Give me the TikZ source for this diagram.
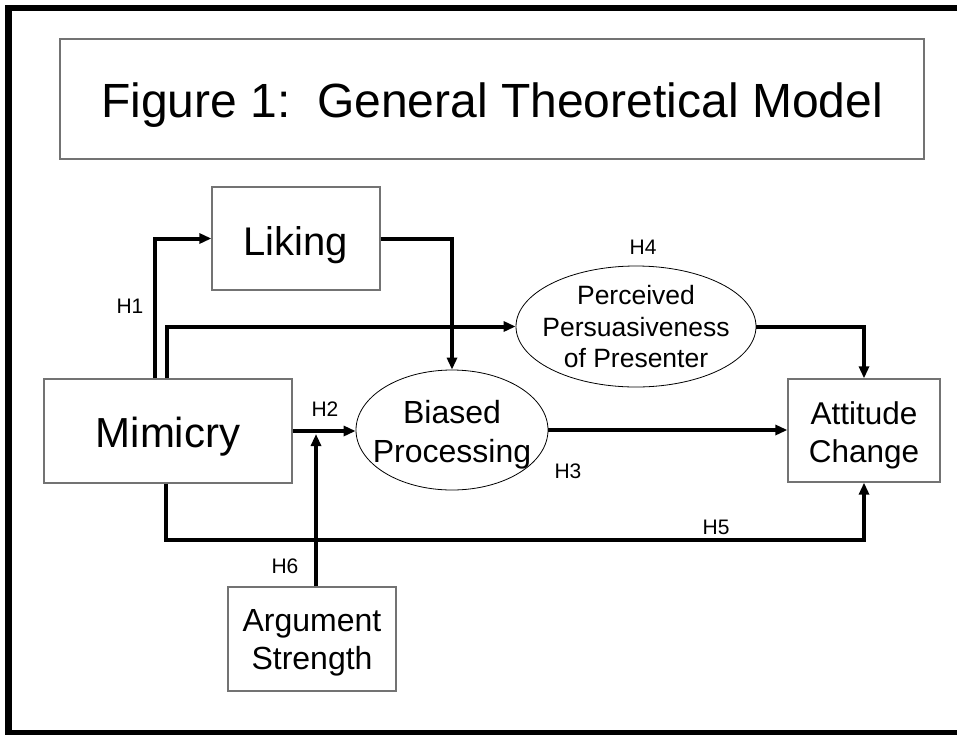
\documentclass[tikz,border=0pt]{standalone}
\usepackage{fontspec}
\setmainfont{Liberation Sans}
\usetikzlibrary{arrows.meta,shapes.geometric,calc}
\begin{document}
\begin{tikzpicture}[x=1pt,y=-1pt,
  box/.style={draw=black!55, line width=1.3pt, rectangle, inner sep=0pt},
  oval/.style={draw=black, line width=0.8pt, ellipse, inner sep=0pt},
  txt/.style={inner sep=0pt, align=center},
  conn/.style={line width=4pt, -{Triangle[length=12pt,width=10pt]}},
  hlab/.style={inner sep=0pt, font=\fontsize{21}{24}\selectfont},
]
\fill[white] (0,0) rectangle (965,734);
\useasboundingbox (0,0) rectangle (965,734);
\draw[line width=6.5pt] (957,8) -- (8.5,8) -- (8.5,733) -- (957,733);

% shapes
\node[box, minimum width=864pt, minimum height=120pt] (title) at (492,99) {};
\node[box, minimum width=168pt, minimum height=103pt] (lik) at (296,238.5) {};
\node[box, minimum width=248pt, minimum height=104pt] (mim) at (168,431) {};
\node[oval, minimum width=192pt, minimum height=120pt] (bia) at (452,430) {};
\node[oval, minimum width=240pt, minimum height=121pt] (per) at (636,326.5) {};
\node[box, minimum width=152pt, minimum height=103pt] (att) at (864,430.5) {};
\node[box, minimum width=168pt, minimum height=104pt] (arg) at (312,639) {};

% texts
\node[txt, font=\fontsize{48}{56}\selectfont] (titlet) at ($(title.center)+(0,6)$) {Figure 1:\ \ General Theoretical Model};
\node[txt, font=\fontsize{40}{46}\selectfont] (likt) at ($(lik.center)+(0,6.4)$) {Liking};
\node[txt, font=\fontsize{42}{48}\selectfont] (mimt) at ($(mim.center)+(0,5.4)$) {Mimicry};
\node[txt, font=\fontsize{32}{39}\selectfont] (biat) at ($(bia.center)+(0,4.4)$) {Biased\\Processing};
\node[txt, font=\fontsize{26.5}{31.5}\selectfont] (pert) at ($(per.center)+(0,0.5)$) {Perceived\\Persuasiveness\\of Presenter};
\node[txt, font=\fontsize{31.5}{38}\selectfont] (attt) at ($(att.center)+(0,4.5)$) {Attitude\\Change};
\node[txt, font=\fontsize{32}{38}\selectfont] (argt) at ($(arg.center)+(0,3.9)$) {Argument\\Strength};

% connectors
\draw[conn] ([xshift=112pt]mim.north west) |- (lik.west);
\draw[conn] ([xshift=124pt]mim.north west) |- (per.west);
\draw[conn] (lik.east) -| (bia.north);
\draw[conn] (mim.east) -- (mim.east -| bia.west);
\coordinate (h2tip) at (316,434);
\draw[conn] (arg.north -| h2tip) -- (h2tip);
\draw[conn] ([xshift=123pt]mim.south west) -- ++(0,56) -| (att.south);
\draw[conn] (bia.east) -- (bia.east -| att.west);
\draw[conn] (per.east) -| (att.north);

% labels
\node[hlab] (h1) at (130,306) {H1};
\node[hlab] (h2) at (325,409) {H2};
\node[hlab] (h3) at (568,471) {H3};
\node[hlab] (h4) at (643,247) {H4};
\node[hlab] (h5) at (716,527) {H5};
\node[hlab] (h6) at (285,566) {H6};
\end{tikzpicture}
\end{document}
